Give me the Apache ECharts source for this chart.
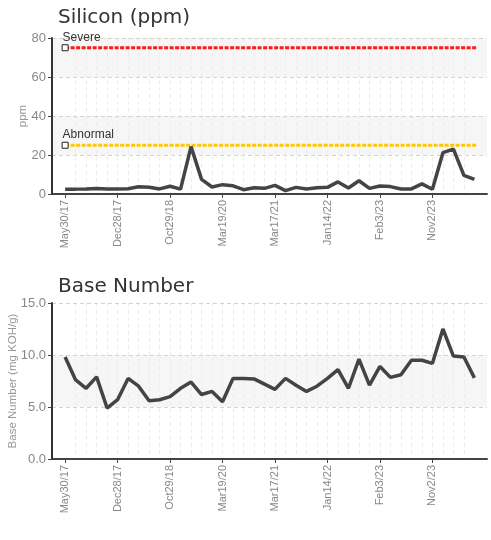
<!DOCTYPE html>
<html><head><meta charset="utf-8">
<script src="https://cdn.jsdelivr.net/npm/echarts@6/dist/echarts.min.js"></script>
<style>html,body{margin:0;padding:0;background:#fff}#c{width:491px;height:540px}</style>
</head><body><div id="c"></div>
<script>
const dateLabels = ['May30/17','Dec28/17','Oct29/18','Mar19/20','Mar17/21','Jan14/22','Feb3/23','Nov2/23'];
const labelIndex = [0,5,10,15,20,25,30,35];
const silicon = [2.5,2.5,2.6,2.8,2.6,2.6,2.7,3.7,3.5,2.6,4.0,2.5,24.3,7.5,3.6,4.8,4.2,2.2,3.2,2.9,4.4,1.7,3.4,2.6,3.2,3.4,6.2,3.1,6.8,2.9,4.1,3.8,2.6,2.6,5.2,2.4,21.2,23.0,9.6,7.5];
const baseNumber = [9.8,7.6,6.8,7.9,4.9,5.7,7.75,7.0,5.6,5.7,6.0,6.8,7.4,6.2,6.5,5.5,7.75,7.75,7.7,7.2,6.7,7.75,7.1,6.5,7.0,7.75,8.6,6.8,9.6,7.1,8.9,7.85,8.1,9.5,9.5,9.2,12.5,9.9,9.8,7.8];
const siliconTicks = [0,20,40,60,80];
const baseTicks = [0,5,10,15];
const severeLimit = 75;
const abnormalLimit = 25;

const sans = "'Liberation Sans', Arial, sans-serif";
const lastIdx = silicon.length - 1;
// layout padding of the sample axis (in sample units), left and right
const padL = 1.25, padR = 1.2;
const xMax = lastIdx + padL + padR;
const majorPos = labelIndex.map(i => i + padL);
const minorPos = silicon.map((_, i) => i + padL);

function xAxisCfg(gi){
  return {
    type:'value', gridIndex:gi, min:0, max:xMax,
    axisLine:{show:true, onZero:false, lineStyle:{color:'#444', width:2}},
    axisTick:{show:true, customValues:majorPos, length:4, lineStyle:{color:'#444'}},
    axisLabel:{customValues:majorPos, rotate:90, margin:6, color:'#888', fontFamily:sans, fontSize:11,
      formatter:function(v){ const k = labelIndex.indexOf(Math.round(v - padL)); return k>=0 ? dateLabels[k] : ''; }},
    splitLine:{show:true, showMinLine:false, showMaxLine:false, lineStyle:{color:'#d0d0d0', type:[4,3]}}
  };
}
function xMinorCfg(gi){
  return {
    type:'value', gridIndex:gi, min:0, max:xMax, position:'bottom',
    axisLine:{show:false, onZero:false}, axisLabel:{show:false},
    axisTick:{show:false, customValues:minorPos},
    splitLine:{show:true, showMinLine:false, showMaxLine:false, lineStyle:{color:'#ececec', type:[4,3]}}
  };
}
function yAxisCfg(gi, ticks, name, nameGap, fmt){
  return {
    type:'value', gridIndex:gi, min:ticks[0], max:ticks[ticks.length-1], interval:ticks[1]-ticks[0], z:6,
    name:name, nameLocation:'middle', nameGap:nameGap, nameMoveOverlap:false,
    nameTextStyle:{color:'#999', fontFamily:sans, fontSize:11.5},
    axisLine:{show:true, onZero:true, lineStyle:{color:'#333', width:2}},
    axisTick:{show:true, length:4, lineStyle:{color:'#444'}},
    axisLabel:{color:'#888', fontFamily:sans, fontSize:13, margin:6, formatter:fmt},
    splitLine:{show:true, showMinLine:false, lineStyle:{color:'#d4d4d4', type:[4,3]}},
    splitArea:{show:false}
  };
}
function bandAxisCfg(gi, ticks){
  return {
    type:'value', gridIndex:gi, min:ticks[0], max:ticks[ticks.length-1], interval:ticks[1]-ticks[0], z:0,
    axisLine:{show:false}, axisTick:{show:false}, axisLabel:{show:false}, splitLine:{show:false},
    splitArea:{show:true, areaStyle:{color:['#ffffff','#f6f6f6']}}
  };
}
function limitSeries(val, color, label){
  return {
    type:'line', xAxisIndex:0, yAxisIndex:0, silent:true, z:11,
    lineStyle:{color:color, width:3, type:[4,1.5]},
    symbol:'none',
    data:[
      {value:[padL,val], symbol:'rect', symbolSize:6,
        itemStyle:{color:'#fff', borderColor:'#222', borderWidth:1},
        label:{show:true, formatter:label, position:[1,-13], color:'#333', fontFamily:sans, fontSize:12}},
      [lastIdx + padL + 0.2, val]
    ]
  };
}
const chart = echarts.init(document.getElementById('c'), null, {renderer:'canvas'});
chart.setOption({
  animation:false,
  title:[
    {text:'Silicon (ppm)', left:53, top:3, textStyle:{fontFamily:'DejaVu Sans', fontSize:20, fontWeight:'normal', color:'#333'}},
    {text:'Base Number', left:53, top:272, textStyle:{fontFamily:'DejaVu Sans', fontSize:20, fontWeight:'normal', color:'#333'}}
  ],
  grid:[
    {left:52, right:4, top:38, bottom:346, containLabel:false, outerBoundsMode:'none'},
    {left:52, right:4, top:303, bottom:81, containLabel:false, outerBoundsMode:'none'}
  ],
  xAxis:[xAxisCfg(0), xAxisCfg(1), xMinorCfg(0), xMinorCfg(1)],
  yAxis:[
    yAxisCfg(0, siliconTicks, 'ppm', 23, v=>String(v)),
    yAxisCfg(1, baseTicks, 'Base Number (mg KOH/g)', 33, v=>v.toFixed(1)),
    bandAxisCfg(0, siliconTicks),
    bandAxisCfg(1, baseTicks)
  ],
  series:[
    limitSeries(severeLimit, '#ff1a1a', 'Severe'),
    limitSeries(abnormalLimit, '#ffc800', 'Abnormal'),
    {type:'line', xAxisIndex:0, yAxisIndex:0, symbol:'none', z:12,
      lineStyle:{color:'#444', width:3.5}, data:silicon.map((v,i)=>[i + padL, v])},
    {type:'line', xAxisIndex:1, yAxisIndex:1, symbol:'none', z:12,
      lineStyle:{color:'#444', width:3.5}, data:baseNumber.map((v,i)=>[i + padL, v])}
  ]
});
</script></body></html>
